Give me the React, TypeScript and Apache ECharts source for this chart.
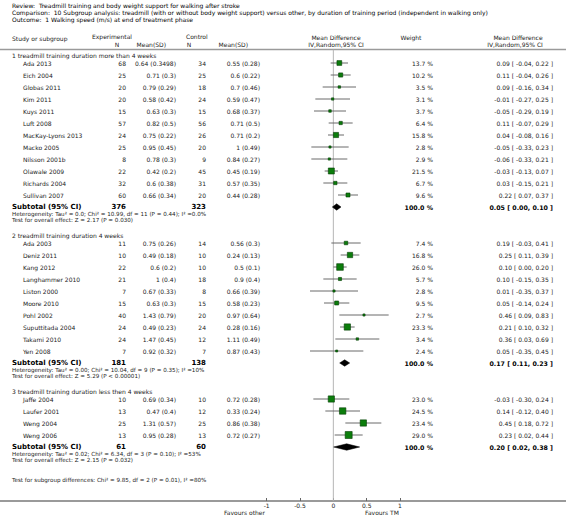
import React, { useEffect, useRef } from "react";
import * as echarts from "echarts";

// ---------------- Data ----------------
const reviewText = "Review:  Treadmill training and body weight support for walking after stroke";
const comparisonText =
  "Comparison:  10 Subgroup analysis: treadmill (with or without body weight support) versus other, by duration of training period (independent in walking only)";
const outcomeText = "Outcome:  1 Walking speed (m/s) at end of treatment phase";

const group1Title = "1 treadmill training duration more than 4 weeks";
const group1Studies = ["Ada 2013", "Eich 2004", "Globas 2011", "Kim 2011", "Kuys 2011", "Luft 2008", "MacKay-Lyons 2013", "Macko 2005", "Nilsson 2001b", "Olawale 2009", "Richards 2004", "Sullivan 2007"];
const group1ExpN = [68, 25, 20, 20, 15, 57, 24, 25, 8, 22, 32, 60];
const group1ExpMean = ["0.64 (0.3498)", "0.71 (0.3)", "0.79 (0.29)", "0.58 (0.42)", "0.63 (0.3)", "0.82 (0.5)", "0.75 (0.22)", "0.95 (0.45)", "0.78 (0.3)", "0.42 (0.2)", "0.6 (0.38)", "0.66 (0.34)"];
const group1CtlN = [34, 25, 18, 24, 15, 56, 26, 20, 9, 45, 31, 20];
const group1CtlMean = ["0.55 (0.28)", "0.6 (0.22)", "0.7 (0.46)", "0.59 (0.47)", "0.68 (0.37)", "0.71 (0.5)", "0.71 (0.2)", "1 (0.49)", "0.84 (0.27)", "0.45 (0.19)", "0.57 (0.35)", "0.44 (0.28)"];
const group1Weight = [13.7, 10.2, 3.5, 3.1, 3.7, 6.4, 15.8, 2.8, 2.9, 21.5, 6.7, 9.6];
const group1MD = [0.09, 0.11, 0.09, -0.01, -0.05, 0.11, 0.04, -0.05, -0.06, -0.03, 0.03, 0.22];
const group1Low = [-0.04, -0.04, -0.16, -0.27, -0.29, -0.07, -0.08, -0.33, -0.33, -0.13, -0.15, 0.07];
const group1High = [0.22, 0.26, 0.34, 0.25, 0.19, 0.29, 0.16, 0.23, 0.21, 0.07, 0.21, 0.37];
const group1Subtotal = [376, 323, 0.05, 0.0, 0.1]; // expN, ctlN, md, low, high
const group1Het = "Heterogeneity: Tau\u00b2 = 0.0; Chi\u00b2 = 10.99, df = 11 (P = 0.44); I\u00b2 =0.0%";
const group1Effect = "Test for overall effect: Z = 2.17 (P = 0.030)";

const group2Title = "2 treadmill training duration 4 weeks";
const group2Studies = ["Ada 2003", "Deniz 2011", "Kang 2012", "Langhammer 2010", "Liston 2000", "Moore 2010", "Pohl 2002", "Suputtitada 2004", "Takami 2010", "Yen 2008"];
const group2ExpN = [11, 10, 22, 21, 7, 15, 40, 24, 24, 7];
const group2ExpMean = ["0.75 (0.26)", "0.49 (0.18)", "0.6 (0.2)", "1 (0.4)", "0.67 (0.33)", "0.63 (0.3)", "1.43 (0.79)", "0.49 (0.23)", "1.47 (0.45)", "0.92 (0.32)"];
const group2CtlN = [14, 10, 10, 18, 8, 15, 20, 24, 12, 7];
const group2CtlMean = ["0.56 (0.3)", "0.24 (0.13)", "0.5 (0.1)", "0.9 (0.4)", "0.66 (0.39)", "0.58 (0.23)", "0.97 (0.64)", "0.28 (0.16)", "1.11 (0.49)", "0.87 (0.43)"];
const group2Weight = [7.4, 16.8, 26.0, 5.7, 2.8, 9.5, 2.7, 23.3, 3.4, 2.4];
const group2MD = [0.19, 0.25, 0.1, 0.1, 0.01, 0.05, 0.46, 0.21, 0.36, 0.05];
const group2Low = [-0.03, 0.11, 0.0, -0.15, -0.35, -0.14, 0.09, 0.1, 0.03, -0.35];
const group2High = [0.41, 0.39, 0.2, 0.35, 0.37, 0.24, 0.83, 0.32, 0.69, 0.45];
const group2Subtotal = [181, 138, 0.17, 0.11, 0.23];
const group2Het = "Heterogeneity: Tau\u00b2 = 0.00; Chi\u00b2 = 10.04, df = 9 (P = 0.35); I\u00b2 =10%";
const group2Effect = "Test for overall effect: Z = 5.29 (P < 0.00001)";

const group3Title = "3 treadmill training duration less then 4 weeks";
const group3Studies = ["Jaffe 2004", "Laufer 2001", "Weng 2004", "Weng 2006"];
const group3ExpN = [10, 13, 25, 13];
const group3ExpMean = ["0.69 (0.34)", "0.47 (0.4)", "1.31 (0.57)", "0.95 (0.28)"];
const group3CtlN = [10, 12, 25, 13];
const group3CtlMean = ["0.72 (0.28)", "0.33 (0.24)", "0.86 (0.38)", "0.72 (0.27)"];
const group3Weight = [23.0, 24.5, 23.4, 29.0];
const group3MD = [-0.03, 0.14, 0.45, 0.23];
const group3Low = [-0.3, -0.12, 0.18, 0.02];
const group3High = [0.24, 0.4, 0.72, 0.44];
const group3Subtotal = [61, 60, 0.2, 0.02, 0.38];
const group3Het = "Heterogeneity: Tau\u00b2 = 0.02; Chi\u00b2 = 6.34, df = 3 (P = 0.10); I\u00b2 =53%";
const group3Effect = "Test for overall effect: Z = 2.15 (P = 0.032)";

const subgroupDiffText = "Test for subgroup differences: Chi\u00b2 = 9.85, df = 2 (P = 0.01), I\u00b2 =80%";
const axisTicks = [-1, -0.5, 0, 0.5, 1];
const favoursLeft = "Favours other";
const favoursRight = "Favours TM";

// ---------------- Layout ----------------
const W = 566;
const H = 525;
const FONT = "DejaVu Sans";
const FS = 6;
const TXT = "#222";
const X_LEFT = 12;
const X_STUDY = 23;
const X_EXPN = 126;
const X_EXPM = 176;
const X_CTLN = 206;
const X_CTLM = 260;
const X_WEIGHT = 433;
const X_CI = 553;

const fmt = (v: number) => v.toFixed(2);
const ciText = (md: number, lo: number, hi: number) => `${fmt(md)} [ ${fmt(lo)}, ${fmt(hi)} ]`;

type Row = {
  kind: "study" | "subtotal" | "label" | "title";
  row: number;
  text?: string;
  name?: string;
  expN?: number;
  expM?: string;
  ctlN?: number;
  ctlM?: string;
  w?: number;
  md?: number;
  lo?: number;
  hi?: number;
};

function buildRows(): Row[] {
  const groups = [
    { title: group1Title, names: group1Studies, en: group1ExpN, em: group1ExpMean, cn: group1CtlN, cm: group1CtlMean, w: group1Weight, md: group1MD, lo: group1Low, hi: group1High, sub: group1Subtotal, het: group1Het, eff: group1Effect },
    { title: group2Title, names: group2Studies, en: group2ExpN, em: group2ExpMean, cn: group2CtlN, cm: group2CtlMean, w: group2Weight, md: group2MD, lo: group2Low, hi: group2High, sub: group2Subtotal, het: group2Het, eff: group2Effect },
    { title: group3Title, names: group3Studies, en: group3ExpN, em: group3ExpMean, cn: group3CtlN, cm: group3CtlMean, w: group3Weight, md: group3MD, lo: group3Low, hi: group3High, sub: group3Subtotal, het: group3Het, eff: group3Effect },
  ];
  const rows: Row[] = [];
  let r = 0;
  groups.forEach((g) => {
    rows.push({ kind: "title", row: r - 0.6, text: g.title });
    g.names.forEach((n, i) => {
      rows.push({ kind: "study", row: r, name: n, expN: g.en[i], expM: g.em[i], ctlN: g.cn[i], ctlM: g.cm[i], w: g.w[i], md: g.md[i], lo: g.lo[i], hi: g.hi[i] });
      r += 1;
    });
    rows.push({ kind: "subtotal", row: r, expN: g.sub[0], ctlN: g.sub[1], md: g.sub[2], lo: g.sub[3], hi: g.sub[4], w: 100 });
    rows.push({ kind: "label", row: r + 0.55, text: g.het });
    rows.push({ kind: "label", row: r + 1.1, text: g.eff });
    r += 3;
  });
  rows.push({ kind: "label", row: r - 0.25, text: subgroupDiffText });
  return rows;
}

export default function App() {
  const ref = useRef<HTMLDivElement>(null);
  useEffect(() => {
    document.body.style.margin = "0";
    if (!ref.current) return;
    const chart = echarts.init(ref.current, undefined, { renderer: "svg" });
    const rows = buildRows();

    const text = (x: number, y: number, t: string, align: string, opts: any = {}) => ({
      type: "text",
      silent: true,
      style: {
        x,
        y,
        text: t,
        align,
        verticalAlign: "middle",
        fontFamily: FONT,
        fontSize: opts.fontSize ?? FS,
        fontWeight: opts.bold ? "bold" : "normal",
        fill: opts.fill ?? TXT,
      },
    });

    const option: any = {
      animation: false,
      backgroundColor: "#fff",
      grid: { left: 0, right: 0, top: 0, height: 501, containLabel: false },
      xAxis: {
        type: "value",
        min: -5,
        max: 3.49,
        interval: 0.5,
        axisLine: { show: true, onZero: false, lineStyle: { color: "#9a9a9a", width: 2 } },
        axisTick: { show: true, inside: true, length: 3, customValues: axisTicks, lineStyle: { color: "#666", width: 1 } },
        axisLabel: {
          customValues: axisTicks,
          fontFamily: FONT,
          fontSize: FS,
          color: TXT,
          margin: 1,
          formatter: (v: number) => String(v),
        },
        splitLine: { show: false },
      },
      yAxis: { type: "value", min: -5.25, max: 36.5, inverse: true, show: false },
      series: [
        {
          type: "custom",
          clip: false,
          data: [[0, -1.1, 36.5]],
          renderItem: (_p: any, api: any) => {
            const a = api.coord([0, api.value(1)]);
            const b = api.coord([0, api.value(2)]);
            return { type: "line", shape: { x1: a[0], y1: a[1], x2: b[0], y2: b[1] }, style: { stroke: "#b5b5b5", lineWidth: 1 } };
          },
        },
        {
          type: "custom",
          clip: false,
          data: rows.map((r) => [r.md ?? 0, r.row]),
          renderItem: (params: any, api: any) => {
            const r = rows[params.dataIndex];
            const y = api.coord([0, api.value(1)])[1];
            const ch: any[] = [];
            if (r.kind === "title") {
              ch.push(text(X_LEFT, y, r.text!, "left"));
            } else if (r.kind === "label") {
              ch.push(text(X_LEFT, y, r.text!, "left", { fontSize: 5.6 }));
            } else if (r.kind === "study") {
              ch.push(text(X_STUDY, y, r.name!, "left"));
              ch.push(text(X_EXPN, y, String(r.expN), "right"));
              ch.push(text(X_EXPM, y, r.expM!, "right"));
              ch.push(text(X_CTLN, y, String(r.ctlN), "right"));
              ch.push(text(X_CTLM, y, r.ctlM!, "right"));
              ch.push(text(X_WEIGHT, y, `${r.w!.toFixed(1)} %`, "right"));
              ch.push(text(X_CI, y, ciText(r.md!, r.lo!, r.hi!), "right"));
              const lo = api.coord([r.lo, r.row]);
              const hi = api.coord([r.hi, r.row]);
              const c = api.coord([r.md, r.row]);
              ch.push({ type: "line", shape: { x1: lo[0], y1: y, x2: hi[0], y2: y }, style: { stroke: "#6a6a6a", lineWidth: 1 } });
              const s = Math.max(1.6, 1.3 * Math.sqrt(r.w!));
              ch.push({ type: "rect", shape: { x: c[0] - s / 2, y: y - s / 2, width: s, height: s }, style: { fill: "#0b7d0b", stroke: "#053d05", lineWidth: 0.6 } });
            } else if (r.kind === "subtotal") {
              ch.push(text(X_LEFT, y, "Subtotal (95% CI)", "left", { bold: true, fontSize: 7, fill: "#000" }));
              ch.push(text(X_EXPN, y, String(r.expN), "right", { bold: true, fontSize: 7, fill: "#000" }));
              ch.push(text(X_CTLN, y, String(r.ctlN), "right", { bold: true, fontSize: 7, fill: "#000" }));
              ch.push(text(X_WEIGHT, y, "100.0 %", "right", { bold: true, fontSize: 6.3, fill: "#000" }));
              ch.push(text(X_CI, y, ciText(r.md!, r.lo!, r.hi!), "right", { bold: true, fontSize: 6.3, fill: "#000" }));
              const lo = api.coord([r.lo, r.row]);
              const hi = api.coord([r.hi, r.row]);
              const c = api.coord([r.md, r.row]);
              const h = 3.2;
              ch.push({
                type: "polygon",
                shape: { points: [[lo[0] - 1, y], [c[0], y - h], [hi[0] + 1, y], [c[0], y + h]] },
                style: { fill: "#000", stroke: "#000", lineWidth: 0.5 },
              });
            }
            return { type: "group", children: ch };
          },
        },
      ],
      graphic: [
        text(X_LEFT, 5, reviewText, "left", { fill: "#000" }),
        text(X_LEFT, 12, comparisonText, "left", { fill: "#000" }),
        text(X_LEFT, 19, outcomeText, "left", { fill: "#000" }),
        text(X_LEFT, 38, "Study or subgroup", "left"),
        text(92, 36, "Experimental", "left"),
        text(117, 44, "N", "center"),
        text(166, 44, "Mean(SD)", "right"),
        text(186, 36, "Control", "left"),
        text(189, 44, "N", "center"),
        text(248, 44, "Mean(SD)", "right"),
        text(336, 37, "Mean Difference", "center"),
        text(336, 44, "IV,Random,95% CI", "center"),
        text(411, 37, "Weight", "center"),
        text(518, 37, "Mean Difference", "center"),
        text(515, 44, "IV,Random,95% CI", "center"),
        { type: "line", silent: true, shape: { x1: 0, y1: 49.5, x2: W, y2: 49.5 }, style: { stroke: "#9a9a9a", lineWidth: 1.5 } },
        text(265, 512, favoursLeft, "right"),
        text(365, 512, favoursRight, "left"),
      ],
    };
    chart.setOption(option);
    return () => chart.dispose();
  }, []);
  return <div ref={ref} style={{ width: W, height: H }} />;
}
